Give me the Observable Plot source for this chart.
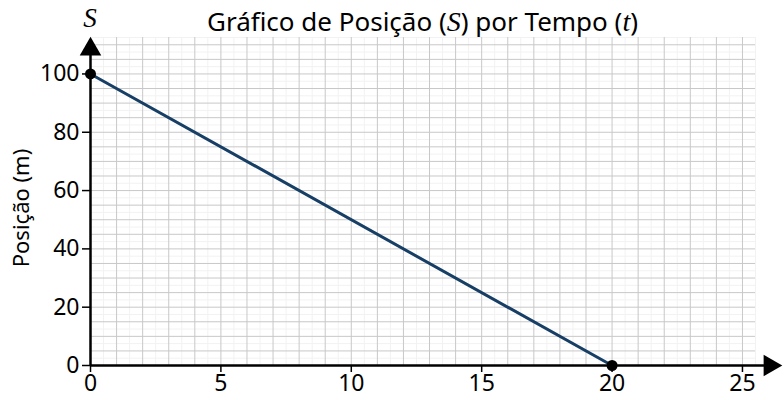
<!DOCTYPE html>
<html>
<head>
<meta charset="UTF-8">
<title>Gráfico de Posição por Tempo</title>
<script src="https://cdn.jsdelivr.net/npm/d3@7"></script>
<script src="https://cdn.jsdelivr.net/npm/@observablehq/plot@0.6"></script>
<style>
  body { margin: 0; background: #fff; }
  #grafico { font-family: "Noto Sans", sans-serif; }
  #grafico g[aria-label$="tick label"] { font-size: 23px; }
</style>
</head>
<body>
<div id="grafico"></div>
<script>
// dados
const tempo = [0, 20];
const posicao = [100, 0];
const ticksX = [0, 5, 10, 15, 20, 25];
const ticksY = [0, 20, 40, 60, 80, 100];
const titulo = ["Gráfico de Posição (", "S", ") por Tempo (", "t", ")"];
const rotuloY = "Posição (m)";
const rotuloS = "S";

const dados = tempo.map((t, i) => ({t: t, s: posicao[i]}));

const W = 784, H = 400;
const mL = 90, mR = 29, mT = 37, mB = 35;
const serif = '"Liberation Serif", serif';

const plot = Plot.plot({
  width: W,
  height: H,
  marginLeft: mL,
  marginRight: mR,
  marginTop: mT,
  marginBottom: mB,
  x: {domain: [0, 25.5]},
  y: {domain: [0, 112.5]},
  style: {fontFamily: '"Noto Sans", sans-serif', fontSize: "23px", color: "#000", background: "#fff"},
  marks: [
    // grade
    Plot.ruleX(d3.range(0.5, 25.6, 1), {stroke: "#f2f2f2"}),
    Plot.ruleY(d3.range(2.5, 112.6, 5), {stroke: "#f2f2f2"}),
    Plot.ruleX(d3.range(1, 25.6, 1), {stroke: "#c8c8c8"}),
    Plot.ruleY(d3.range(5, 112.6, 5), {stroke: "#c8c8c8"}),
    // eixos
    Plot.axisX(ticksX, {tickSize: 7, tickPadding: 2, label: null, strokeWidth: 1.5}),
    Plot.axisY(ticksY, {tickSize: 8, tickPadding: 3, strokeWidth: 1.5, label: null}),
    Plot.ruleY([0], {x1: 0, x2: 26, stroke: "#000", strokeWidth: 2.5}),
    Plot.ruleX([0], {y1: 0, y2: 108, stroke: "#000", strokeWidth: 2.5}),
    Plot.dot([0], {x: 26.05, y: 0, symbol: "triangle", rotate: 90, r: 8, fill: "#000"}),
    Plot.dot([0], {x: 0, y: 108.5, symbol: "triangle", r: 8, fill: "#000"}),
    // reta
    Plot.line(dados, {x: "t", y: "s", stroke: "#173f66", strokeWidth: 3}),
    Plot.dot(dados, {x: "t", y: "s", r: 5.5, fill: "#000"})
  ]
});

const svg = d3.select(plot);

const tit = svg.append("text")
  .attr("x", (mL + W - mR) / 2)
  .attr("y", 31)
  .attr("text-anchor", "middle")
  .attr("fill", "#000")
  .style("font-size", "26px")
  .style("font-family", '"Noto Sans", sans-serif');
titulo.forEach((p, i) => {
  const ts = tit.append("tspan").text(p);
  if (i % 2) ts.style("font-family", serif).style("font-style", "italic").style("font-size", "28px");
});

svg.append("text")
  .attr("x", mL)
  .attr("y", 27)
  .attr("text-anchor", "middle")
  .attr("fill", "#000")
  .style("font-family", serif)
  .style("font-style", "italic")
  .style("font-size", "27px")
  .text(rotuloS);

svg.append("text")
  .attr("transform", "translate(29,208) rotate(-90)")
  .attr("text-anchor", "middle")
  .attr("fill", "#000")
  .style("font-size", "22px")
  .style("font-family", '"Noto Sans", sans-serif')
  .text(rotuloY);

document.querySelector("#grafico").append(plot);
</script>
</body>
</html>
